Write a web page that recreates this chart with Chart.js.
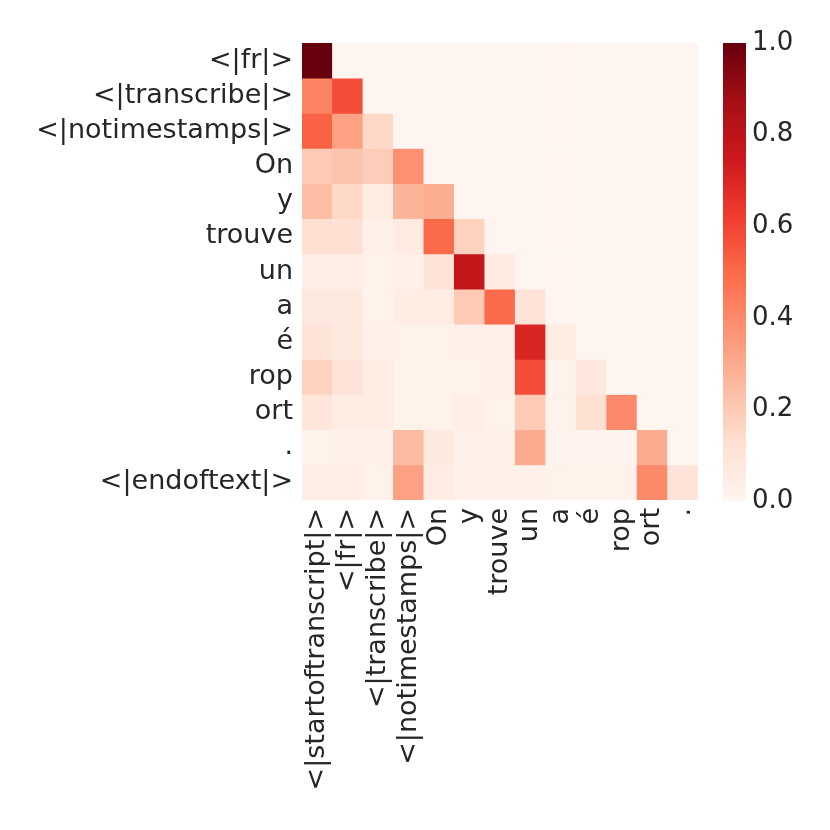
<!DOCTYPE html>
<html>
<head>
<meta charset="utf-8">
<script src="https://cdn.jsdelivr.net/npm/chart.js@4"></script>
<style>
  body { margin: 0; background: #fff; }
  #wrap { position: relative; width: 830px; height: 830px; }
  #heat { position: absolute; left: 0; top: 0; }
  #cbar { position: absolute; left: 700px; top: 0; }
</style>
</head>
<body>
<div id="wrap">
  <canvas id="heat" width="830" height="830"></canvas>
  <canvas id="cbar" width="130" height="830"></canvas>
</div>
<script>
// query tokens (rows) and key tokens (columns)
const rowTokens = ['<|fr|>', '<|transcribe|>', '<|notimestamps|>', 'On', 'y', 'trouve', 'un', 'a', 'é', 'rop', 'ort', '.', '<|endoftext|>'];
const colTokens = ['<|startoftranscript|>', '<|fr|>', '<|transcribe|>', '<|notimestamps|>', 'On', 'y', 'trouve', 'un', 'a', 'é', 'rop', 'ort', '.'];

// attention weights, row by row (only the causal part, rest is 0)
const attention = [
  [1.0],
  [0.42, 0.58],
  [0.52, 0.33, 0.15],
  [0.20, 0.22, 0.19, 0.38],
  [0.24, 0.15, 0.05, 0.27, 0.29],
  [0.12, 0.12, 0.03, 0.06, 0.50, 0.17],
  [0.04, 0.04, 0.02, 0.03, 0.10, 0.78, 0.06],
  [0.07, 0.07, 0.02, 0.05, 0.05, 0.20, 0.50, 0.10],
  [0.10, 0.07, 0.03, 0.02, 0.02, 0.03, 0.03, 0.70, 0.05],
  [0.17, 0.10, 0.05, 0.02, 0.02, 0.02, 0.03, 0.58, 0.02, 0.08],
  [0.09, 0.05, 0.05, 0.02, 0.02, 0.04, 0.02, 0.20, 0.02, 0.12, 0.40],
  [0.02, 0.03, 0.03, 0.25, 0.07, 0.03, 0.03, 0.30, 0.01, 0.01, 0.01, 0.30],
  [0.04, 0.04, 0.02, 0.33, 0.05, 0.03, 0.03, 0.03, 0.02, 0.02, 0.02, 0.40, 0.10]
];

const cbarTicks = [0, 0.2, 0.4, 0.6, 0.8, 1.0];

// matplotlib "Reds"
const reds = ['#fff5f0', '#fee0d2', '#fcbba1', '#fc9272', '#fb6a4a', '#ef3b2c', '#cb181d', '#a50f15', '#67000d'];

function hex(c) {
  return [1, 3, 5].map(k => parseInt(c.substr(k, 2), 16));
}
function cmap(v) {
  v = Math.max(0, Math.min(1, v));
  const p = v * (reds.length - 1);
  const i = Math.min(Math.floor(p), reds.length - 2);
  const t = p - i;
  const a = hex(reds[i]), b = hex(reds[i + 1]);
  const c = a.map((x, k) => Math.round(x + (b[k] - x) * t));
  return 'rgb(' + c.join(',') + ')';
}

const font = { family: 'DejaVu Sans', size: 27 };
const textColor = '#262626';

const datasets = rowTokens.map((name, i) => ({
  label: name,
  data: colTokens.map(() => 1),
  backgroundColor: colTokens.map((_, j) => cmap(attention[i][j] || 0)),
  borderWidth: 0,
  barPercentage: 1,
  categoryPercentage: 1
}));

new Chart(document.getElementById('heat'), {
  type: 'bar',
  data: { labels: colTokens, datasets: datasets },
  options: {
    responsive: false,
    animation: false,
    layout: { padding: { left: 0, top: 43, right: 132, bottom: 0 } },
    plugins: { legend: { display: false }, tooltip: { enabled: false } },
    scales: {
      x: {
        stacked: true,
        grid: { display: false },
        border: { display: false },
        ticks: { color: textColor, font: font, minRotation: 90, maxRotation: 90, autoSkip: false, padding: 0 },
        afterFit: s => { s.height = 330; }
      },
      y: {
        stacked: true,
        reverse: true,
        min: 0,
        max: rowTokens.length,
        grid: { display: false },
        border: { display: false },
        afterBuildTicks: s => { s.ticks = rowTokens.map((_, i) => ({ value: i + 0.5 })); },
        ticks: {
          color: textColor, font: font, autoSkip: false, padding: 1,
          callback: v => rowTokens[Math.floor(v)]
        },
        afterFit: s => { s.width = 302; }
      }
    }
  }
});

// colorbar
new Chart(document.getElementById('cbar'), {
  type: 'bar',
  data: {
    labels: [''],
    datasets: [{
      data: [[0, 1]],
      borderWidth: 0,
      barPercentage: 1,
      categoryPercentage: 1,
      backgroundColor: ctx => {
        const area = ctx.chart.chartArea;
        if (!area) return reds[4];
        const g = ctx.chart.ctx.createLinearGradient(0, area.bottom, 0, area.top);
        reds.forEach((c, k) => g.addColorStop(k / (reds.length - 1), c));
        return g;
      }
    }]
  },
  options: {
    responsive: false,
    animation: false,
    layout: { padding: { left: 23, top: 43, right: 0, bottom: 329 } },
    plugins: { legend: { display: false }, tooltip: { enabled: false } },
    scales: {
      x: { display: false },
      y: {
        position: 'right',
        min: 0,
        max: 1,
        grid: { display: false, drawOnChartArea: false, drawTicks: true, tickLength: 4, tickColor: textColor },
        border: { display: false },
        afterBuildTicks: s => { s.ticks = cbarTicks.map(v => ({ value: v })); },
        ticks: { color: textColor, font: { family: 'DejaVu Sans', size: 26 }, padding: 2, callback: v => v.toFixed(1) },
        afterFit: s => { s.width = 84; }
      }
    }
  }
});
</script>
</body>
</html>
